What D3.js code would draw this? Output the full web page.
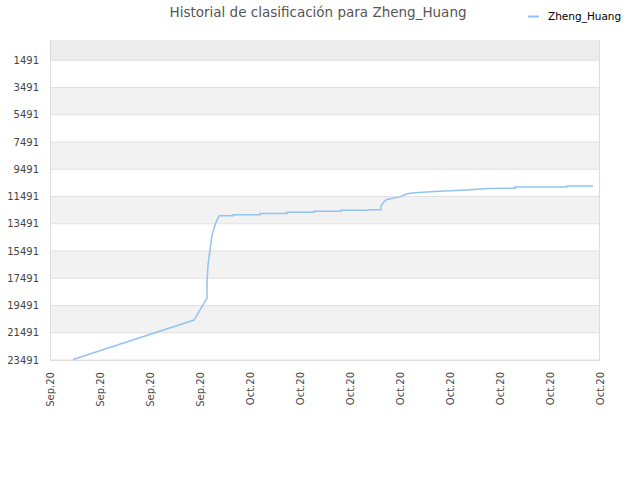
<!DOCTYPE html>
<html>
<head>
<meta charset="utf-8">
<script src="https://cdn.jsdelivr.net/npm/d3@7"></script>
<style>
  body { margin: 0; background: #fff; }
  text { font-family: "DejaVu Sans", sans-serif; }
</style>
</head>
<body>
<div id="chart"></div>
<script>
var svgWidth = 640;
var svgHeight = 480;

var margin = { top: 40, right: 40, bottom: 120, left: 50 };
var width = svgWidth - margin.left - margin.right;
var height = svgHeight - margin.top - margin.bottom;

// x labels, one per tick (tick index is the x unit)
var xTickLabels = ["Sep.20", "Sep.20", "Sep.20", "Sep.20", "Oct.20", "Oct.20",
                   "Oct.20", "Oct.20", "Oct.20", "Oct.20", "Oct.20", "Oct.20"];
var yTicks = [1491, 3491, 5491, 7491, 9491, 11491, 13491, 15491, 17491, 19491, 21491, 23491];

// ranking history (x = position in tick units, rank)
var dayPos = [0.46, 2.88, 3.14, 3.14, 3.16, 3.2, 3.24, 3.31, 3.38,
              3.66, 3.66, 4.2, 4.2, 4.74, 4.74, 5.28, 5.28, 5.82, 5.82, 6.36, 6.36,
              6.62, 6.62, 6.68, 6.74, 6.86, 7.0, 7.1, 7.2, 7.38, 7.7, 8.0, 8.32,
              8.62, 8.78, 9.3, 9.3, 10.34, 10.34, 10.86];
var rankVal = [23460, 20558, 18944, 17845, 16525, 15425, 14325, 13481, 12909,
               12909, 12830, 12830, 12730, 12730, 12650, 12650, 12575, 12575, 12500, 12500, 12470,
               12470, 12175, 11882, 11707, 11611, 11516, 11340, 11245, 11193, 11120, 11076, 11003,
               10930, 10900, 10880, 10800, 10800, 10720, 10720];

var data = dayPos.map(function(d, i) { return { x: d, r: rankVal[i] }; });

var svg = d3.select("#chart")
  .append("svg")
  .attr("width", svgWidth)
  .attr("height", svgHeight);

var chartGroup = svg.append("g")
  .attr("transform", `translate(${margin.left}, ${margin.top})`);

var xScale = d3.scaleLinear()
  .domain([0, xTickLabels.length - 1])
  .range([0, width]);

var yScale = d3.scaleLinear()
  .domain([1, 23491])
  .range([0, height]);

// alternating bands between y ticks
var bandEdges = [1].concat(yTicks);
for (var i = 0; i < bandEdges.length - 1; i++) {
  if (i % 2 === 1) continue;
  chartGroup.append("rect")
    .attr("x", 0)
    .attr("y", yScale(bandEdges[i]))
    .attr("width", width)
    .attr("height", yScale(bandEdges[i + 1]) - yScale(bandEdges[i]))
    .attr("fill", i === 0 ? "#ececec" : "#f2f2f2");
}

// horizontal grid lines
chartGroup.selectAll(".grid")
  .data(yTicks)
  .enter()
  .append("line")
  .attr("x1", 0)
  .attr("x2", width)
  .attr("y1", d => yScale(d))
  .attr("y2", d => yScale(d))
  .attr("stroke", "#e0e0e0")
  .attr("stroke-width", 1);

// plot border (left, right, bottom)
chartGroup.append("path")
  .attr("d", `M0.5,0 V${height + 0.5} H${width - 0.5} V0`)
  .attr("fill", "none")
  .attr("stroke", "#dcdcdc");

// axes
var leftAxis = d3.axisLeft(yScale)
  .tickValues(yTicks)
  .tickFormat(d3.format("d"))
  .tickSize(0)
  .tickPadding(11);

var yAxisG = chartGroup.append("g").call(leftAxis);
yAxisG.select(".domain").remove();
yAxisG.selectAll("text")
  .attr("fill", "#444")
  .attr("font-size", "10px")
  .attr("font-family", "DejaVu Sans, sans-serif");

var bottomAxis = d3.axisBottom(xScale)
  .tickValues(d3.range(xTickLabels.length))
  .tickFormat(d => xTickLabels[d])
  .tickSize(0);

var xAxisG = chartGroup.append("g")
  .attr("transform", `translate(0, ${height})`)
  .call(bottomAxis);
xAxisG.select(".domain").remove();
xAxisG.selectAll("text")
  .attr("transform", "rotate(-90)")
  .attr("text-anchor", "end")
  .attr("x", -12)
  .attr("y", 0)
  .attr("dy", "0.35em")
  .attr("fill", "#444")
  .attr("font-size", "10px")
  .attr("font-family", "DejaVu Sans, sans-serif");

// line
var line = d3.line()
  .x(d => xScale(d.x))
  .y(d => yScale(d.r));

chartGroup.append("path")
  .datum(data)
  .attr("d", line)
  .attr("fill", "none")
  .attr("stroke", "#92c3f3")
  .attr("stroke-width", 1.5);

// title
svg.append("text")
  .attr("x", 318)
  .attr("y", 17)
  .attr("text-anchor", "middle")
  .attr("font-size", "13.5px")
  .attr("fill", "#555")
  .text("Historial de clasificación para Zheng_Huang");

// legend
svg.append("line")
  .attr("x1", 528)
  .attr("x2", 539)
  .attr("y1", 16.5)
  .attr("y2", 16.5)
  .attr("stroke", "#92c3f3")
  .attr("stroke-width", 2);

svg.append("text")
  .attr("x", 548)
  .attr("y", 20)
  .attr("font-size", "10.5px")
  .attr("fill", "#000")
  .text("Zheng_Huang");
</script>
</body>
</html>
